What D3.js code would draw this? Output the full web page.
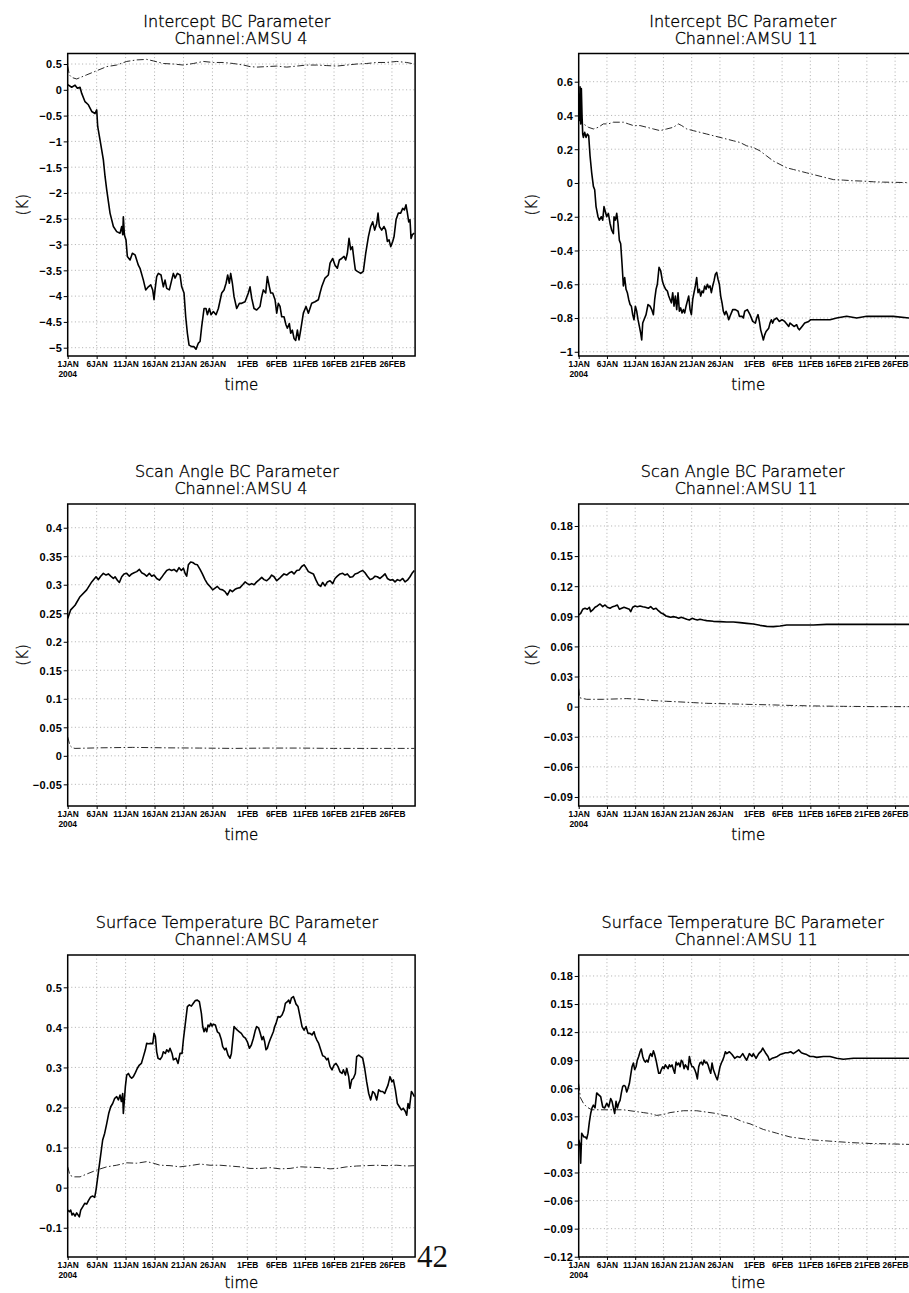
<!DOCTYPE html>
<html>
<head>
<meta charset="utf-8">
<script src="https://cdn.jsdelivr.net/npm/d3@7"></script>
<style>
body { margin: 0; background: #fff; }
svg { display: block; }
.title { font-family: "DejaVu Sans", sans-serif; font-size: 16px; font-weight: 300; fill: #000; stroke: #000; stroke-width: 0.35px; }
.lab { font-family: "DejaVu Sans", sans-serif; font-size: 15px; font-weight: 300; fill: #000; stroke: #000; stroke-width: 0.35px; }
.yax text { font-family: "Liberation Sans", Arial, sans-serif; font-size: 11px; font-weight: bold; fill: #000; }
.xax text { font-family: "Liberation Sans", Arial, sans-serif; font-size: 8.4px; font-weight: bold; fill: #000; }
.grid line { stroke: #9a9a9a; stroke-width: 0.8; stroke-dasharray: 1,2.6; }
</style>
</head>
<body>
<script>
// ---- data: [day since 1 Jan 2004 00Z, value] ----
var icpt4Solid = [[0,0.1],[0.69,0.05],[1.27,0.09],[1.67,0.03],[2.13,0.05],[2.42,-0.07],[2.99,-0.23],[3.57,-0.29],[4.15,-0.42],[4.72,-0.46],[5.01,-0.39],[5.18,-0.71],[5.58,-0.97],[6.16,-1.36],[6.45,-1.68],[6.74,-1.94],[7.31,-2.39],[7.89,-2.65],[8.46,-2.75],[9.04,-2.78],[9.33,-2.65],[9.5,-2.81],[9.61,-2.46],[9.79,-2.81],[10.07,-2.91],[10.3,-3.23],[10.77,-3.3],[11.17,-3.17],[11.63,-3.2],[12.2,-3.4],[12.49,-3.46],[13.07,-3.69],[13.47,-3.88],[13.93,-3.82],[14.34,-3.78],[14.68,-3.88],[14.91,-4.07],[15.08,-3.88],[15.37,-3.62],[15.66,-3.56],[16.12,-3.59],[16.52,-3.82],[16.81,-3.69],[17.1,-3.85],[17.56,-3.88],[17.96,-3.69],[18.25,-3.56],[18.54,-3.65],[18.94,-3.56],[19.4,-3.59],[19.69,-3.82],[20.09,-3.94],[20.38,-4.4],[20.67,-4.72],[20.96,-4.95],[21.42,-4.98],[21.82,-4.98],[22.16,-5.03],[22.57,-4.91],[22.86,-4.88],[23.14,-4.59],[23.55,-4.24],[23.89,-4.24],[24.12,-4.36],[24.47,-4.24],[24.76,-4.36],[25.16,-4.3],[25.62,-4.36],[26.02,-4.24],[26.6,-3.94],[27.0,-3.88],[27.35,-3.75],[27.63,-3.59],[27.92,-3.75],[28.15,-3.56],[28.44,-3.75],[28.73,-4.01],[29.19,-4.24],[29.65,-4.14],[30.05,-4.14],[30.63,-4.11],[31.2,-3.94],[31.49,-3.82],[31.78,-4.04],[32.18,-4.24],[32.64,-4.27],[33.22,-4.2],[33.51,-4.01],[33.79,-3.88],[34.2,-3.94],[34.48,-3.62],[34.83,-3.82],[35.06,-3.94],[35.41,-3.94],[35.81,-4.07],[36.1,-4.33],[36.38,-4.14],[36.67,-4.2],[36.96,-4.4],[37.36,-4.4],[37.71,-4.56],[37.94,-4.62],[38.28,-4.53],[38.51,-4.72],[38.8,-4.66],[39.09,-4.82],[39.38,-4.86],[39.67,-4.66],[39.95,-4.85],[40.24,-4.66],[40.7,-4.33],[41.16,-4.2],[41.57,-4.33],[42.14,-4.14],[42.72,-4.11],[43.29,-4.07],[43.58,-3.94],[43.87,-3.82],[44.44,-3.65],[45.02,-3.59],[45.31,-3.36],[45.77,-3.27],[46.17,-3.4],[46.57,-3.46],[46.92,-3.3],[47.32,-3.27],[47.73,-3.23],[48.01,-3.3],[48.3,-3.17],[48.59,-2.88],[48.88,-3.1],[49.17,-3.04],[49.45,-3.3],[49.68,-3.49],[50.03,-3.52],[50.6,-3.56],[51.06,-3.52],[51.47,-3.17],[51.93,-2.85],[52.33,-2.65],[52.68,-2.56],[53.02,-2.72],[53.37,-2.59],[53.6,-2.39],[53.83,-2.65],[54.23,-2.72],[54.63,-2.65],[54.92,-2.72],[55.21,-2.94],[55.5,-2.91],[55.79,-3.04],[56.13,-2.94],[56.36,-2.85],[56.71,-2.52],[57.11,-2.39],[57.51,-2.39],[57.86,-2.3],[58.15,-2.33],[58.43,-2.23],[58.67,-2.39],[58.9,-2.56],[59.12,-2.52],[59.3,-2.88],[59.53,-2.81],[59.87,-2.78]];
var icpt4Dash = [[0,0.46],[0.29,0.29],[0.69,0.24],[1.55,0.21],[3.28,0.29],[5.01,0.37],[6.74,0.45],[8.46,0.48],[10.19,0.55],[11.92,0.58],[13.64,0.59],[14.8,0.56],[16.52,0.51],[18.25,0.5],[19.98,0.48],[21.7,0.51],[23.43,0.55],[25.16,0.53],[26.89,0.53],[28.61,0.51],[30.34,0.48],[31.49,0.45],[32.64,0.44],[34.37,0.45],[36.1,0.46],[37.82,0.44],[39.55,0.46],[41.28,0.48],[43.0,0.48],[44.73,0.47],[46.46,0.46],[48.19,0.48],[49.91,0.5],[51.64,0.51],[53.37,0.53],[55.09,0.53],[56.82,0.55],[58.55,0.53],[59.87,0.5]];

var icpt11Solid = [[0,0.53],[0.12,0.37],[0.24,0.57],[0.35,0.35],[0.47,0.56],[0.59,0.4],[0.71,0.29],[0.83,0.27],[1.06,0.3],[1.3,0.27],[1.53,0.29],[1.77,0.28],[2.01,0.16],[2.3,0.06],[2.6,-0.02],[2.83,-0.04],[3.07,-0.14],[3.42,-0.2],[3.66,-0.22],[4.01,-0.2],[4.25,-0.22],[4.48,-0.14],[4.72,-0.17],[4.96,-0.2],[5.25,-0.18],[5.55,-0.24],[5.84,-0.28],[6.14,-0.3],[6.25,-0.2],[6.49,-0.22],[6.73,-0.18],[6.96,-0.24],[7.2,-0.34],[7.43,-0.36],[7.67,-0.48],[7.91,-0.61],[8.14,-0.56],[8.38,-0.63],[8.61,-0.65],[8.85,-0.69],[9.09,-0.72],[9.32,-0.73],[9.56,-0.78],[9.79,-0.81],[10.03,-0.73],[10.27,-0.76],[10.5,-0.81],[10.74,-0.85],[10.97,-0.89],[11.15,-0.93],[11.33,-0.83],[11.56,-0.81],[11.92,-0.78],[12.27,-0.72],[12.63,-0.73],[12.92,-0.75],[13.22,-0.78],[13.45,-0.69],[13.69,-0.63],[13.92,-0.6],[14.22,-0.5],[14.51,-0.52],[14.81,-0.58],[15.1,-0.61],[15.4,-0.63],[15.69,-0.64],[15.93,-0.67],[16.17,-0.69],[16.4,-0.71],[16.64,-0.65],[16.87,-0.73],[17.11,-0.67],[17.35,-0.75],[17.58,-0.65],[17.82,-0.76],[18.05,-0.74],[18.29,-0.77],[18.53,-0.75],[18.76,-0.77],[19.0,-0.73],[19.23,-0.7],[19.47,-0.67],[19.71,-0.75],[19.94,-0.78],[20.18,-0.69],[20.41,-0.65],[20.65,-0.61],[20.88,-0.56],[21.12,-0.65],[21.36,-0.63],[21.59,-0.67],[21.83,-0.64],[22.06,-0.65],[22.3,-0.61],[22.54,-0.63],[22.77,-0.6],[23.01,-0.62],[23.24,-0.61],[23.48,-0.65],[23.72,-0.61],[23.95,-0.58],[24.19,-0.54],[24.42,-0.53],[24.66,-0.57],[24.9,-0.6],[25.13,-0.67],[25.37,-0.71],[25.6,-0.76],[25.84,-0.78],[26.08,-0.76],[26.31,-0.78],[26.55,-0.81],[26.78,-0.79],[27.26,-0.75],[27.73,-0.75],[28.2,-0.76],[28.44,-0.79],[28.91,-0.79],[29.14,-0.8],[29.38,-0.76],[29.85,-0.75],[30.32,-0.78],[30.8,-0.82],[31.27,-0.83],[31.5,-0.8],[31.74,-0.78],[31.98,-0.82],[32.21,-0.87],[32.45,-0.9],[32.68,-0.93],[32.92,-0.9],[33.16,-0.88],[33.63,-0.86],[33.86,-0.83],[34.1,-0.81],[34.34,-0.83],[34.57,-0.81],[35.04,-0.8],[35.52,-0.82],[35.99,-0.81],[36.46,-0.82],[36.93,-0.84],[37.17,-0.85],[37.4,-0.83],[38.11,-0.85],[38.58,-0.84],[38.82,-0.86],[39.06,-0.87],[39.53,-0.85],[40.0,-0.83],[40.71,-0.82],[41.06,-0.81],[42.12,-0.81],[43.3,-0.81],[44.48,-0.81],[45.66,-0.8],[47.43,-0.79],[49.2,-0.8],[50.97,-0.79],[53.33,-0.79],[55.69,-0.79],[58.47,-0.8],[60,-0.8]];
var icpt11Dash = [[0,0.39],[0.83,0.35],[1.71,0.33],[2.6,0.32],[3.48,0.33],[4.37,0.35],[5.25,0.35],[6.14,0.36],[7.91,0.36],[8.79,0.35],[9.68,0.34],[10.86,0.34],[12.04,0.33],[13.22,0.32],[14.4,0.31],[15.58,0.32],[16.76,0.33],[17.64,0.35],[18.23,0.34],[19.12,0.32],[20.29,0.31],[21.47,0.3],[22.65,0.29],[23.83,0.28],[25.01,0.27],[26.19,0.26],[27.37,0.25],[28.55,0.24],[29.73,0.22],[30.91,0.21],[32.09,0.19],[33.27,0.16],[34.45,0.13],[35.63,0.11],[36.81,0.09],[37.99,0.08],[39.17,0.07],[40.35,0.06],[41.53,0.05],[42.71,0.04],[43.89,0.03],[45.07,0.02],[46.84,0.017],[48.61,0.013],[50.38,0.011],[52.15,0.007],[53.92,0.005],[55.69,0.004],[58.47,0.002],[60,0.002]];

var scan4Solid = [[0,0.241],[0.52,0.256],[1.27,0.264],[2.13,0.279],[3.28,0.291],[4.15,0.305],[4.89,0.314],[5.3,0.309],[5.7,0.315],[6.16,0.32],[6.62,0.317],[7.02,0.319],[7.43,0.315],[7.89,0.311],[8.18,0.314],[8.58,0.308],[8.92,0.304],[9.33,0.314],[9.73,0.319],[10.19,0.32],[10.65,0.315],[11.05,0.319],[11.46,0.321],[11.92,0.323],[12.38,0.327],[12.78,0.321],[13.18,0.319],[13.64,0.315],[14.1,0.32],[14.51,0.315],[14.91,0.317],[15.37,0.311],[15.83,0.308],[16.23,0.313],[16.64,0.319],[17.1,0.325],[17.5,0.327],[17.96,0.325],[18.36,0.327],[18.83,0.323],[19.23,0.33],[19.63,0.325],[19.98,0.329],[20.32,0.319],[20.55,0.315],[20.84,0.335],[21.24,0.34],[21.59,0.339],[21.99,0.336],[22.4,0.335],[22.86,0.327],[23.26,0.319],[23.72,0.309],[24.12,0.302],[24.58,0.297],[25.04,0.291],[25.45,0.294],[25.85,0.297],[26.31,0.292],[26.77,0.291],[27.17,0.288],[27.58,0.282],[28.04,0.291],[28.44,0.288],[28.9,0.292],[29.3,0.294],[29.76,0.295],[30.22,0.3],[30.63,0.305],[31.03,0.302],[31.38,0.3],[31.78,0.302],[32.18,0.3],[32.64,0.305],[33.1,0.309],[33.51,0.313],[33.91,0.309],[34.37,0.307],[34.83,0.311],[35.23,0.317],[35.64,0.314],[36.1,0.307],[36.56,0.311],[36.96,0.315],[37.36,0.319],[37.82,0.317],[38.28,0.321],[38.69,0.323],[39.09,0.319],[39.55,0.325],[40.01,0.326],[40.41,0.332],[40.82,0.335],[41.16,0.33],[41.57,0.323],[41.97,0.321],[42.43,0.319],[42.89,0.308],[43.29,0.3],[43.7,0.297],[44.04,0.304],[44.44,0.298],[44.85,0.305],[45.31,0.307],[45.77,0.302],[46.17,0.311],[46.57,0.315],[47.04,0.319],[47.5,0.32],[47.9,0.317],[48.3,0.319],[48.76,0.313],[49.22,0.314],[49.63,0.319],[50.03,0.32],[50.49,0.323],[50.95,0.325],[51.35,0.321],[51.76,0.315],[52.22,0.309],[52.68,0.311],[53.08,0.315],[53.48,0.314],[53.94,0.311],[54.4,0.315],[54.81,0.319],[55.21,0.311],[55.67,0.308],[56.13,0.309],[56.53,0.305],[56.94,0.309],[57.4,0.307],[57.86,0.311],[58.26,0.305],[58.67,0.308],[59.12,0.314],[59.47,0.32],[59.87,0.325]];
var scan4Dash = [[0,0.033],[0.4,0.018],[0.8,0.014],[1.27,0.013],[5.5,0.014],[11.2,0.0148],[17.0,0.014],[22.8,0.0136],[28.6,0.013],[34.4,0.0136],[40.1,0.0136],[45.9,0.013],[51.6,0.013],[57.4,0.013],[59.87,0.013]];

var scan11Solid = [[0,0.0913],[0.35,0.093],[0.71,0.097],[1.12,0.098],[1.53,0.097],[1.89,0.099],[2.12,0.0946],[2.48,0.0963],[2.89,0.099],[3.3,0.1003],[3.78,0.1023],[4.25,0.0996],[4.66,0.1013],[5.07,0.099],[5.55,0.098],[6.02,0.0996],[6.43,0.1003],[6.84,0.1013],[7.2,0.097],[7.61,0.098],[8.02,0.099],[8.5,0.098],[8.97,0.097],[9.2,0.0946],[9.56,0.099],[9.97,0.1003],[10.38,0.0996],[10.86,0.1003],[11.33,0.0996],[11.8,0.099],[12.33,0.098],[12.74,0.0996],[13.22,0.097],[13.69,0.098],[14.1,0.0956],[14.51,0.0936],[14.99,0.0923],[15.46,0.0903],[15.87,0.0897],[16.28,0.089],[16.76,0.0897],[17.23,0.089],[17.7,0.088],[18.17,0.089],[18.64,0.088],[19.12,0.087],[19.59,0.0863],[20.06,0.088],[20.53,0.087],[21.0,0.0863],[21.47,0.087],[22.06,0.0863],[22.65,0.0857],[23.83,0.085],[25.01,0.0847],[26.19,0.0843],[27.37,0.0843],[28.55,0.0837],[29.73,0.083],[30.91,0.0824],[32.09,0.081],[33.27,0.08],[34.45,0.0797],[35.63,0.0804],[36.81,0.0814],[39.17,0.0814],[41.53,0.0814],[43.89,0.082],[49.79,0.082],[58.47,0.082],[60,0.082]];
var scan11Dash = [[0,0.018],[0.15,0.009],[0.53,0.0083],[1.42,0.0073],[4.37,0.0073],[8.5,0.008],[10.86,0.0073],[13.22,0.006],[15.58,0.0053],[17.94,0.0047],[20.29,0.004],[22.65,0.0033],[25.01,0.003],[27.37,0.0027],[29.73,0.0023],[32.09,0.002],[34.45,0.0017],[36.81,0.0013],[39.17,0.001],[41.53,0.0007],[46.84,0.0003],[52.74,0],[60,0]];

var sfc4Solid = [[0,-0.056],[0.29,-0.06],[0.52,-0.056],[0.75,-0.068],[0.98,-0.064],[1.27,-0.071],[1.55,-0.063],[1.78,-0.068],[2.01,-0.073],[2.25,-0.056],[2.59,-0.048],[2.94,-0.039],[3.28,-0.041],[3.63,-0.031],[3.97,-0.023],[4.32,-0.021],[4.66,-0.024],[4.89,-0.006],[5.12,0.019],[5.35,0.044],[5.58,0.069],[5.81,0.094],[6.04,0.119],[6.39,0.136],[6.74,0.16],[7.08,0.185],[7.43,0.202],[7.77,0.21],[8.12,0.223],[8.46,0.227],[8.75,0.219],[9.04,0.231],[9.27,0.215],[9.5,0.235],[9.61,0.185],[9.79,0.219],[9.96,0.252],[10.19,0.281],[10.48,0.285],[10.77,0.277],[11.05,0.273],[11.34,0.277],[11.69,0.287],[12.03,0.298],[12.38,0.306],[12.72,0.31],[13.07,0.327],[13.41,0.344],[13.64,0.36],[13.99,0.359],[14.34,0.36],[14.68,0.359],[14.91,0.385],[15.14,0.377],[15.37,0.339],[15.6,0.323],[15.95,0.32],[16.29,0.327],[16.52,0.339],[16.87,0.335],[17.1,0.344],[17.44,0.339],[17.67,0.348],[18.02,0.335],[18.25,0.319],[18.71,0.323],[19.06,0.31],[19.4,0.335],[19.75,0.335],[19.98,0.369],[20.32,0.41],[20.67,0.452],[21.01,0.456],[21.36,0.453],[21.7,0.46],[22.05,0.467],[22.39,0.468],[22.74,0.464],[23.09,0.435],[23.32,0.402],[23.55,0.389],[23.78,0.398],[24.01,0.389],[24.24,0.406],[24.47,0.402],[24.7,0.41],[24.93,0.403],[25.16,0.408],[25.5,0.406],[25.85,0.389],[26.19,0.385],[26.54,0.369],[26.77,0.352],[27.12,0.344],[27.35,0.348],[27.69,0.331],[28.04,0.323],[28.27,0.335],[28.5,0.369],[28.73,0.402],[28.96,0.398],[29.3,0.393],[29.65,0.389],[29.99,0.385],[30.34,0.377],[30.69,0.373],[31.03,0.364],[31.38,0.348],[31.72,0.356],[32.07,0.373],[32.41,0.393],[32.64,0.402],[32.99,0.398],[33.22,0.387],[33.56,0.369],[33.79,0.377],[34.02,0.364],[34.25,0.344],[34.48,0.348],[34.72,0.36],[34.95,0.369],[35.29,0.381],[35.52,0.389],[35.75,0.402],[35.98,0.41],[36.33,0.427],[36.67,0.425],[37.02,0.431],[37.36,0.443],[37.59,0.46],[37.94,0.464],[38.17,0.468],[38.4,0.46],[38.63,0.473],[38.98,0.477],[39.21,0.468],[39.44,0.458],[39.78,0.452],[40.13,0.427],[40.47,0.402],[40.82,0.393],[41.16,0.402],[41.51,0.385],[41.85,0.385],[42.2,0.381],[42.54,0.389],[42.77,0.377],[43.01,0.369],[43.35,0.36],[43.7,0.344],[44.04,0.329],[44.39,0.327],[44.73,0.319],[44.96,0.323],[45.31,0.302],[45.65,0.294],[46.0,0.306],[46.34,0.31],[46.69,0.302],[47.04,0.289],[47.38,0.285],[47.61,0.294],[47.96,0.281],[48.19,0.298],[48.53,0.277],[48.76,0.248],[49.05,0.269],[49.34,0.273],[49.68,0.285],[49.91,0.327],[50.26,0.331],[50.6,0.327],[50.95,0.323],[51.29,0.298],[51.64,0.264],[51.99,0.235],[52.33,0.219],[52.68,0.24],[53.02,0.235],[53.37,0.219],[53.71,0.244],[54.06,0.24],[54.4,0.24],[54.75,0.235],[54.98,0.244],[55.32,0.256],[55.67,0.277],[56.01,0.264],[56.25,0.269],[56.59,0.244],[56.94,0.21],[57.28,0.202],[57.63,0.194],[57.97,0.198],[58.32,0.19],[58.55,0.181],[58.78,0.21],[59.01,0.198],[59.36,0.24],[59.59,0.235],[59.87,0.227]];
var sfc4Dash = [[0,0.052],[0.4,0.031],[0.98,0.027],[2.13,0.027],[3.28,0.034],[5.01,0.044],[6.74,0.052],[8.46,0.056],[10.19,0.062],[11.92,0.061],[13.64,0.065],[14.8,0.061],[15.95,0.056],[17.67,0.055],[19.4,0.052],[21.13,0.055],[22.86,0.059],[24.58,0.056],[26.31,0.056],[28.04,0.054],[29.76,0.052],[31.49,0.048],[33.22,0.048],[34.95,0.05],[36.67,0.047],[38.4,0.048],[40.13,0.052],[41.85,0.051],[43.58,0.05],[45.31,0.047],[46.46,0.048],[48.19,0.052],[49.91,0.054],[51.64,0.055],[53.37,0.056],[55.09,0.055],[56.82,0.056],[58.55,0.054],[59.87,0.055]];

var sfc11Solid = [[0,0.005],[0.18,0.001],[0.35,-0.02],[0.53,0.012],[0.71,0.01],[0.94,0.008],[1.18,0.008],[1.42,0.006],[1.65,0.012],[1.89,0.024],[2.12,0.033],[2.36,0.039],[2.6,0.042],[2.89,0.039],[3.19,0.055],[3.54,0.053],[3.89,0.051],[4.25,0.04],[4.6,0.039],[4.96,0.044],[5.31,0.04],[5.66,0.049],[5.9,0.046],[6.14,0.039],[6.37,0.033],[6.61,0.046],[6.84,0.039],[7.08,0.044],[7.32,0.047],[7.55,0.055],[7.79,0.062],[8.02,0.063],[8.26,0.062],[8.5,0.056],[8.73,0.06],[8.97,0.065],[9.2,0.074],[9.44,0.083],[9.68,0.087],[9.91,0.08],[10.15,0.083],[10.38,0.09],[10.62,0.094],[10.86,0.099],[11.09,0.102],[11.33,0.094],[11.56,0.09],[11.8,0.088],[12.04,0.09],[12.27,0.088],[12.51,0.094],[12.74,0.097],[12.98,0.094],[13.22,0.1],[13.45,0.096],[13.69,0.09],[13.92,0.083],[14.16,0.076],[14.4,0.076],[14.63,0.08],[14.87,0.083],[15.1,0.081],[15.34,0.085],[15.58,0.083],[15.81,0.081],[16.05,0.085],[16.28,0.083],[16.52,0.085],[16.76,0.08],[16.99,0.076],[17.23,0.088],[17.46,0.085],[17.7,0.087],[17.94,0.083],[18.17,0.09],[18.41,0.088],[18.64,0.081],[18.88,0.085],[19.12,0.083],[19.35,0.08],[19.59,0.094],[19.82,0.087],[20.06,0.083],[20.29,0.083],[20.53,0.08],[20.77,0.076],[21.0,0.07],[21.24,0.083],[21.47,0.087],[21.71,0.088],[21.95,0.085],[22.18,0.09],[22.42,0.087],[22.65,0.088],[22.89,0.085],[23.13,0.08],[23.36,0.076],[23.6,0.087],[23.83,0.08],[24.07,0.076],[24.31,0.072],[24.54,0.069],[24.78,0.076],[25.01,0.083],[25.25,0.087],[25.49,0.09],[25.72,0.094],[25.96,0.099],[26.19,0.097],[26.67,0.099],[27.14,0.096],[27.61,0.092],[28.08,0.094],[28.55,0.093],[29.03,0.097],[29.5,0.092],[29.73,0.09],[30.21,0.097],[30.68,0.094],[30.91,0.097],[31.39,0.092],[31.86,0.097],[32.33,0.1],[32.57,0.103],[33.04,0.098],[33.51,0.094],[33.75,0.09],[34.22,0.092],[34.69,0.093],[35.16,0.094],[35.63,0.096],[36.11,0.097],[36.58,0.098],[37.05,0.098],[37.52,0.099],[38.0,0.097],[38.7,0.1],[38.94,0.101],[39.41,0.098],[39.88,0.097],[40.35,0.096],[40.94,0.094],[41.53,0.094],[42.12,0.093],[43.3,0.094],[44.48,0.094],[45.66,0.092],[46.84,0.091],[48.61,0.092],[50.97,0.092],[55.69,0.092],[58.47,0.092],[60,0.092]];
var sfc11Dash = [[0,0.065],[0.3,0.05],[0.83,0.044],[1.42,0.04],[2.3,0.037],[3.19,0.037],[5.55,0.037],[7.91,0.037],[9.09,0.036],[10.27,0.035],[11.45,0.034],[12.63,0.033],[13.81,0.031],[14.99,0.032],[16.17,0.034],[17.35,0.035],[18.53,0.036],[20.88,0.036],[22.06,0.035],[23.24,0.034],[24.42,0.033],[25.6,0.031],[26.78,0.03],[27.96,0.027],[29.14,0.024],[30.32,0.022],[31.5,0.019],[32.68,0.016],[33.86,0.014],[35.04,0.012],[36.22,0.01],[37.4,0.008],[38.58,0.007],[39.76,0.006],[40.94,0.005],[43.3,0.004],[45.66,0.003],[48.02,0.002],[51.56,0.001],[55.69,0.0005],[58.47,0],[60,0]];

// tick values
var icpt4Ticks = [-5, -4.5, -4, -3.5, -3, -2.5, -2, -1.5, -1, -0.5, 0, 0.5];
var icpt11Ticks = [-1, -0.8, -0.6, -0.4, -0.2, 0, 0.2, 0.4, 0.6];
var scan4Ticks = [-0.05, 0, 0.05, 0.1, 0.15, 0.2, 0.25, 0.3, 0.35, 0.4];
var scan11Ticks = [-0.09, -0.06, -0.03, 0, 0.03, 0.06, 0.09, 0.12, 0.15, 0.18];
var sfc4Ticks = [-0.1, 0, 0.1, 0.2, 0.3, 0.4, 0.5];
var sfc11Ticks = [-0.12, -0.09, -0.06, -0.03, 0, 0.03, 0.06, 0.09, 0.12, 0.15, 0.18];
var xTickDays = [0, 5, 10, 15, 20, 25, 31, 36, 41, 46, 51, 56];

var paramNames = ["Intercept BC Parameter", "Scan Angle BC Parameter", "Surface Temperature BC Parameter"];
var channels = ["AMSU 4", "AMSU 11"];

// ---- layout ----
var W = 909, H = 1293;
var t0 = Date.UTC(2004, 0, 1), dayMs = 864e5;
function toDate(d) { return new Date(t0 + d * dayMs); }

var cols = [{x: 67.7, w: 347.4, kx: -44.5, t1: -4.5, t2: -0.5},
            {x: 578.7, w: 339, kx: -47, t1: -5.5, t2: -2}];
var rows = [{y: 53.5, h: 302.5, k: true, tl: 34},
            {y: 504, h: 302, k: true, tl: 34},
            {y: 955, h: 302, k: false, tl: 30.5}];

var panels = [
  {r: 0, c: 0, solid: icpt4Solid, dash: icpt4Dash, ticks: icpt4Ticks, dom: [-5.161, 0.704]},
  {r: 0, c: 1, solid: icpt11Solid, dash: icpt11Dash, ticks: icpt11Ticks, dom: [-1.025, 0.767]},
  {r: 1, c: 0, solid: scan4Solid, dash: scan4Dash, ticks: scan4Ticks, dom: [-0.088, 0.4416]},
  {r: 1, c: 1, solid: scan11Solid, dash: scan11Dash, ticks: scan11Ticks, dom: [-0.099, 0.2019]},
  {r: 2, c: 0, solid: sfc4Solid, dash: sfc4Dash, ticks: sfc4Ticks, dom: [-0.173, 0.5806]},
  {r: 2, c: 1, solid: sfc11Solid, dash: sfc11Dash, ticks: sfc11Ticks, dom: [-0.1203, 0.2024]}
];

var svg = d3.select("body").append("svg")
    .attr("width", W)
    .attr("height", H);

var fmtY = d3.format("~g");
var fmtX = d3.utcFormat("%-d%b");

panels.forEach(function(p, i) {
    var col = cols[p.c], row = rows[p.r];
    var x = d3.scaleUtc().domain([toDate(0), toDate(60)]).range([col.x, col.x + col.w]);
    var y = d3.scaleLinear().domain(p.dom).range([row.y + row.h, row.y]);
    var xTicks = xTickDays.map(toDate);
    var g = svg.append("g");

    // dotted grid
    var grid = g.append("g").attr("class", "grid");
    grid.selectAll(".gx").data(xTicks.slice(1)).enter().append("line")
        .attr("x1", function(d) { return x(d); }).attr("x2", function(d) { return x(d); })
        .attr("y1", row.y).attr("y2", row.y + row.h);
    grid.selectAll(".gy").data(p.ticks).enter().append("line")
        .attr("x1", col.x).attr("x2", col.x + col.w)
        .attr("y1", function(d) { return y(d); }).attr("y2", function(d) { return y(d); });

    // data lines
    var clipId = "clip" + i;
    g.append("clipPath").attr("id", clipId).append("rect")
        .attr("x", col.x).attr("y", row.y).attr("width", col.w).attr("height", row.h);
    var line = d3.line()
        .x(function(d) { return x(toDate(d[0])); })
        .y(function(d) { return y(d[1]); });
    var lines = g.append("g").attr("clip-path", "url(#" + clipId + ")");
    lines.append("path").datum(p.dash)
        .attr("d", line).attr("fill", "none").attr("stroke", "#111")
        .attr("stroke-width", 0.9).attr("stroke-dasharray", "7,2.5,1.5,2.5");
    lines.append("path").datum(p.solid)
        .attr("d", line).attr("fill", "none").attr("stroke", "#000")
        .attr("stroke-width", 1.6).attr("stroke-linejoin", "round");

    // frame
    g.append("rect")
        .attr("x", col.x).attr("y", row.y).attr("width", col.w).attr("height", row.h)
        .attr("fill", "none").attr("stroke", "#000").attr("stroke-width", 1.5);

    // axes
    var yAxis = d3.axisLeft(y).tickValues(p.ticks).tickFormat(fmtY)
        .tickSize(4).tickSizeOuter(0).tickPadding(1.5);
    var ya = g.append("g").attr("class", "yax")
        .attr("transform", "translate(" + col.x + ",0)").call(yAxis);
    ya.select(".domain").remove();
    ya.selectAll("line").attr("stroke", "#000").attr("stroke-width", 1);
    ya.selectAll("text").attr("dy", "0.35em").style("letter-spacing", "0.3px");

    var xAxis = d3.axisBottom(x).tickValues(xTicks)
        .tickFormat(function(d) { return fmtX(d).toUpperCase(); })
        .tickSize(3).tickSizeOuter(0).tickPadding(2);
    var xa = g.append("g").attr("class", "xax")
        .attr("transform", "translate(0," + (row.y + row.h) + ")").call(xAxis);
    xa.select(".domain").remove();
    xa.selectAll("line").attr("stroke", "#000").attr("stroke-width", 1);
    xa.append("text").attr("x", x(xTicks[0])).attr("y", 20.5).attr("text-anchor", "middle")
        .attr("fill", "#000").text("2004");

    // titles and labels
    var cx = col.x + col.w / 2;
    g.append("text").attr("class", "title").attr("text-anchor", "middle")
        .attr("x", cx + col.t1).attr("y", row.y - 27).text(paramNames[p.r]);
    g.append("text").attr("class", "title").attr("text-anchor", "middle")
        .attr("x", cx + col.t2).attr("y", row.y - 10).text("Channel:" + channels[p.c]);
    g.append("text").attr("class", "lab").attr("text-anchor", "middle")
        .attr("x", cx).attr("y", row.y + row.h + row.tl).text("time");
    if (row.k) {
        var ky = row.y + row.h / 2;
        g.append("text").attr("class", "lab").attr("text-anchor", "middle")
            .attr("transform", "translate(" + (col.x + col.kx) + "," + ky + ") rotate(-90)")
            .attr("dy", "0.35em").text("(K)");
    }
});

// page number
svg.append("text")
    .attr("x", 417).attr("y", 1266.5)
    .style("font-family", "'Liberation Serif', 'DejaVu Serif', serif")
    .style("font-size", "31px")
    .attr("fill", "#111")
    .text("42");
</script>
</body>
</html>
